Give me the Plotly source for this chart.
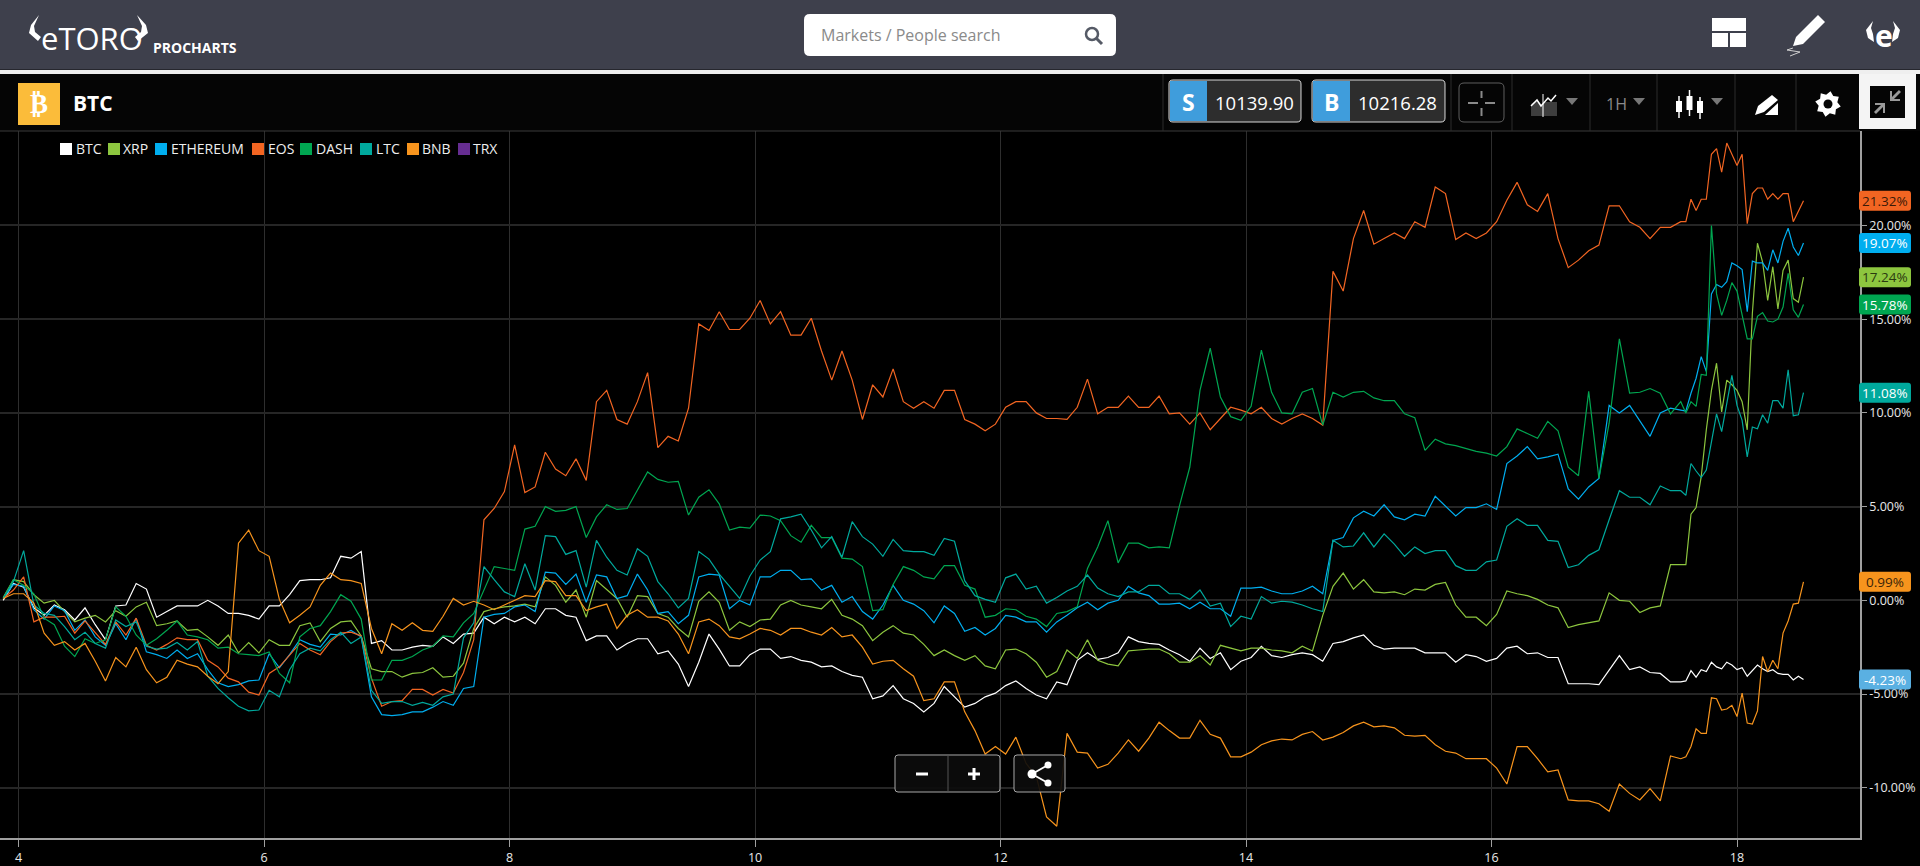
import math

import plotly.graph_objects as go

W, H = 1920, 866

# hours since the 4th: 2-hourly up to h=323, then hourly for the busy tail
hours = list(range(-3, 325, 2)) + list(range(325, 350))
days = [4 + h / 24 for h in hours]

btc = [0.0,0.9,0.7,-0.4,-0.8,-0.25,-0.5,-1.05,-0.4,-1.3,
       -2.1,-0.3,-0.25,0.9,0.6,-0.9,-0.6,-0.3,-0.3,-0.3,
       0.0,-0.3,-0.7,-0.7,-0.8,-1.0,-0.3,-0.3,0.3,1.05,
       1.1,1.1,1.2,2.35,2.25,2.6,-2.3,-2.15,-2.65,-2.65,
       -2.5,-2.4,-2.45,-1.95,-2.3,-1.8,-1.75,-0.9,-1.25,-0.9,
       -1.15,-0.9,-1.25,-0.45,-0.45,-0.8,-0.9,-2.15,-1.9,-1.9,
       -2.65,-2.3,-2.05,-2.05,-2.85,-2.7,-3.4,-4.6,-3.3,-1.8,
       -2.6,-3.5,-3.5,-2.9,-2.6,-2.6,-3.1,-3.0,-3.2,-3.3,
       -3.55,-3.5,-3.8,-4.0,-4.1,-5.25,-5.1,-4.55,-5.25,-5.5,
       -5.95,-5.5,-4.6,-5.15,-5.7,-5.5,-5.15,-4.95,-4.55,-4.3,
       -4.7,-5.05,-5.25,-4.35,-4.5,-3.2,-2.8,-3.15,-3.05,-2.8,
       -1.95,-2.2,-2.3,-2.35,-2.65,-2.9,-3.25,-2.55,-3.1,-2.8,
       -3.7,-3.25,-3.05,-2.45,-2.95,-3.05,-2.9,-2.8,-2.9,-3.25,
       -2.3,-2.2,-2.0,-1.85,-2.4,-2.6,-2.55,-2.55,-2.55,-2.8,
       -2.8,-2.8,-3.3,-2.9,-3.0,-3.25,-3.1,-2.55,-2.45,-2.85,
       -2.8,-3.05,-3.05,-4.45,-4.45,-4.45,-4.5,-3.7,-2.95,-3.7,
       -3.55,-3.85,-3.9,-4.35,
       -4.35,-4.3,-3.75,-4.1,-3.7,-3.8,-3.3,-3.55,-3.65,-3.3,-3.45,-3.7,-3.6,
       -4.05,-3.75,-3.45,-3.65,-3.8,-3.7,-3.9,-3.95,-3.95,-4.25,-4.05,-4.23]

xrp = [0.15,1.1,1.0,0.3,-0.15,0.0,-0.6,-1.15,-0.95,-0.8,
       -1.15,-0.55,-0.85,-0.35,-0.1,-1.35,-1.25,-1.1,-1.6,-1.55,
       -1.95,-2.4,-1.85,-2.8,-2.25,-2.8,-2.1,-2.4,-2.4,-1.35,
       -1.2,-2.2,-1.5,-1.15,-1.1,-1.9,-3.65,-3.8,-3.8,-4.1,
       -3.9,-3.85,-3.6,-4.1,-4.05,-3.35,-1.5,-0.6,-0.45,-0.35,
       -0.3,-0.2,-0.35,1.25,0.8,-0.1,0.55,-0.9,1.05,0.6,
       0.1,-0.9,0.25,0.2,-0.7,-0.9,-1.5,-1.95,-0.05,0.45,
       -0.1,-1.6,-1.15,-1.4,-1.05,-1.0,-0.25,0.0,-0.25,-0.35,
       -0.45,0.05,-0.8,-1.0,-1.35,-2.15,-1.7,-1.35,-1.75,-1.85,
       -2.35,-2.95,-2.65,-2.95,-3.2,-2.95,-3.5,-3.65,-2.65,-2.6,
       -2.85,-3.3,-4.1,-3.8,-2.65,-3.1,-2.1,-3.2,-3.4,-3.5,
       -2.7,-2.65,-2.6,-2.6,-2.85,-3.3,-3.3,-2.95,-3.45,-2.4,
       -2.55,-2.7,-2.55,-2.55,-2.65,-2.7,-2.8,-2.45,-2.7,-0.8,
       0.75,1.45,0.6,1.1,0.45,0.4,0.45,0.3,0.6,0.55,
       0.85,0.95,-0.25,-0.9,-0.9,-1.35,-0.75,0.5,0.35,0.25,
       0.05,-0.25,-0.4,-1.45,-1.3,-1.2,-1.1,0.4,0.0,-0.05,
       -0.65,-0.4,-0.3,1.9,
       1.9,1.9,4.6,4.95,6.6,9.1,11.2,12.65,10.05,11.75,11.5,11.2,10.6,
       9.1,15.3,19.05,18.05,16.0,17.8,15.55,17.6,18.15,16.1,15.9,17.24]

ethereum = [0.1,0.85,0.75,-0.5,-1.0,-0.3,-0.55,-1.6,-1.05,-1.95,
            -2.4,-1.25,-2.1,-0.95,-2.75,-2.9,-3.1,-2.65,-3.1,-2.85,
            -3.7,-4.4,-4.6,-4.5,-4.3,-4.25,-2.85,-3.6,-2.9,-2.1,
            -2.35,-2.5,-1.8,-1.85,-1.6,-1.95,-5.15,-6.1,-6.15,-6.1,
            -5.95,-5.95,-5.7,-5.4,-5.6,-4.7,-4.6,-0.9,-0.75,-0.7,
            -0.35,-0.25,-0.6,1.5,1.45,0.85,1.4,-0.1,1.35,1.25,
            0.1,0.25,1.4,0.55,-0.7,-0.6,-1.25,-0.8,1.25,1.4,
            1.35,-0.45,0.0,-0.25,1.25,1.25,1.6,1.6,1.1,1.15,
            0.55,0.8,-0.1,0.2,-0.6,-1.0,-0.25,0.8,0.0,-0.2,
            -0.55,-1.2,-0.3,-0.7,-1.65,-1.45,-1.85,-1.5,-0.8,-0.9,
            -1.15,-1.15,-1.7,-1.15,-0.8,-0.4,-0.1,-0.5,-0.15,0.0,
            0.75,0.4,0.25,-0.2,-0.2,-0.15,-0.45,-0.1,-0.45,-0.45,
            -0.85,0.65,0.65,0.7,0.5,0.35,0.35,0.5,0.75,0.35,
            3.2,3.35,4.4,4.75,4.5,5.1,4.45,4.3,4.6,4.5,
            5.55,5.05,4.5,4.95,4.95,5.15,4.85,7.3,7.7,8.2,
            7.55,7.65,7.8,5.95,5.4,6.05,6.5,10.4,10.0,10.4,
            9.6,8.75,10.0,10.25,
            10.15,10.1,11.05,11.85,13.0,12.2,16.35,16.85,16.7,17.0,18.0,17.85,17.65,
            15.4,18.1,18.0,18.0,17.6,18.7,18.0,19.15,19.85,18.85,18.4,19.07]

eos = [0.1,0.55,1.25,-1.15,-0.9,-0.9,-0.85,-1.75,-1.1,-1.75,
       -2.35,-1.15,-1.85,-0.95,-2.4,-2.65,-2.35,-2.0,-2.1,-2.1,
       -3.2,-3.55,-4.15,-4.35,-4.9,-5.05,-3.9,-3.55,-2.9,-2.3,
       -2.65,-2.9,-2.2,-1.75,-1.7,-1.9,-4.15,-5.65,-5.4,-5.35,
       -4.75,-4.75,-5.05,-4.75,-4.95,-3.85,-2.1,4.3,4.9,5.8,
       8.3,5.75,6.05,7.9,7.0,6.65,7.55,6.4,10.6,11.2,
       9.65,9.4,10.6,12.15,8.15,8.75,8.5,10.25,14.75,14.4,
       15.4,14.45,14.45,15.05,16.0,14.75,15.4,14.15,14.15,15.05,
       13.3,11.75,13.3,11.75,9.65,11.5,10.85,12.35,10.6,10.25,
       10.6,10.25,11.2,11.2,9.65,9.4,9.05,9.4,10.3,10.6,
       10.6,10.0,9.7,9.7,9.65,10.3,11.8,9.95,10.3,10.3,
       10.9,10.3,10.3,10.9,9.95,10.0,9.4,10.0,9.1,9.7,
       10.3,10.15,9.95,10.3,9.7,9.4,9.7,9.95,9.7,9.35,
       17.55,16.5,19.3,20.8,19.0,19.3,19.6,19.3,20.2,19.9,
       22.05,21.7,19.25,19.6,19.3,19.6,20.2,21.35,22.3,21.1,
       20.75,21.7,19.3,17.75,18.15,18.65,18.95,21.05,21.05,20.2,
       19.9,19.3,19.9,19.9,
       20.2,20.2,21.4,20.8,21.4,21.4,23.8,24.1,22.85,24.4,23.8,23.2,23.8,
       20.1,21.7,22.0,22.0,21.4,21.7,21.4,21.7,21.7,20.2,20.8,21.32]

dash = [0.1,1.1,0.8,0.35,-0.95,-1.3,-2.45,-3.0,-2.05,-2.3,
        -2.1,-0.35,-0.85,-1.85,-2.4,-2.05,-1.6,-1.1,-1.85,-1.95,
        -2.1,-2.55,-2.5,-2.85,-2.9,-2.95,-2.75,-3.9,-4.4,-1.95,
        -1.5,-1.35,-0.6,0.3,-0.05,-1.0,-4.25,-4.25,-3.2,-3.2,
        -3.0,-2.65,-2.45,-1.9,-1.95,-1.2,-0.7,0.55,1.8,1.7,
        1.6,3.8,3.95,5.0,4.75,4.8,5.0,3.35,4.45,5.1,
        4.85,4.9,5.85,6.85,6.45,6.3,6.35,4.55,5.5,5.9,
        5.15,3.75,3.9,3.85,4.55,4.5,4.25,3.45,3.1,4.0,
        3.35,3.35,2.25,2.2,1.8,-0.55,-0.5,0.85,1.8,1.6,
        1.25,1.15,1.85,1.85,0.8,0.6,-0.9,-0.8,-0.45,-0.5,
        -0.85,-1.0,-1.4,-0.7,-0.6,-0.35,1.7,2.85,4.25,2.0,
        3.05,3.05,2.8,2.85,2.8,5.05,7.1,11.2,13.45,10.85,
        9.8,9.6,10.35,13.35,11.1,10.0,9.95,11.1,11.3,9.35,
        11.1,10.85,11.1,11.15,10.8,10.65,10.65,9.95,9.75,8.0,
        8.6,8.35,8.25,8.1,7.95,7.85,7.7,8.2,9.15,8.9,
        8.65,9.55,9.05,7.1,6.65,11.15,6.5,9.45,13.95,11.05,
        11.1,11.3,11.05,9.95,
        10.6,10.0,10.6,10.35,12.05,12.0,20.0,16.35,15.2,16.0,16.95,16.5,15.2,
        13.95,13.95,15.15,15.35,14.9,14.85,15.0,15.65,17.45,15.5,15.1,15.78]

ltc = [0.1,1.0,2.65,-0.25,-0.7,-0.8,-1.4,-2.1,-1.7,-2.3,
       -2.55,-1.05,-1.4,-1.15,-2.45,-2.6,-2.55,-2.25,-2.65,-2.2,
       -4.05,-4.7,-5.2,-5.65,-5.9,-5.85,-4.8,-5.15,-3.7,-2.85,
       -2.55,-2.7,-2.1,-1.7,-2.3,-1.95,-4.8,-5.5,-5.4,-5.4,
       -5.6,-5.45,-5.6,-5.15,-5.0,-2.0,-1.2,1.8,1.1,0.45,
       0.2,1.95,0.55,3.45,3.4,2.45,2.65,0.7,3.2,2.3,
       1.6,1.35,2.75,2.35,1.0,0.35,-0.4,0.1,2.6,2.2,
       1.4,0.75,0.1,1.3,2.15,2.6,4.35,4.45,4.6,3.75,
       2.8,3.4,2.3,4.2,3.4,3.0,2.35,3.25,2.65,2.6,
       2.6,2.4,3.3,3.15,1.05,0.25,0.05,-0.1,1.2,1.4,
       0.6,0.75,-0.15,0.15,0.5,0.75,1.35,0.65,0.35,0.2,
       0.45,0.45,0.8,0.8,0.35,0.35,0.05,0.55,-0.3,-0.15,
       -1.4,-0.85,-1.0,0.2,-0.15,-0.05,-0.1,-0.25,-0.45,-0.6,
       3.2,2.85,2.9,3.6,2.85,3.55,3.0,2.35,2.85,2.5,
       2.65,2.65,1.85,1.6,1.6,2.05,2.15,3.95,4.35,4.0,
       4.0,3.2,3.15,1.75,1.9,2.4,2.7,4.3,5.85,5.5,
       5.5,5.1,6.1,5.85,
       5.85,5.6,7.3,6.9,6.55,6.95,8.55,9.95,9.0,10.5,12.0,10.4,9.6,
       7.65,9.25,9.15,9.9,9.45,10.65,10.65,10.25,12.3,9.85,9.9,11.08]

bnb = [0.1,0.35,0.35,-0.15,-1.75,-2.4,-2.2,-2.65,-2.3,-3.25,
       -4.3,-3.05,-3.55,-2.5,-3.7,-4.4,-4.1,-3.2,-3.4,-3.55,
       -4.05,-4.45,-3.8,3.05,3.75,2.65,2.35,0.05,-1.2,-0.8,
       -0.35,0.8,1.45,1.1,1.05,0.9,-1.5,-2.85,-1.25,-1.6,
       -1.2,-1.6,-1.65,-0.85,0.1,-0.25,-0.05,-0.25,-0.5,-0.25,
       0.0,0.25,0.2,1.05,1.0,0.25,0.25,-0.55,-0.35,-0.2,
       -1.5,-0.8,-0.5,-0.9,-0.9,-1.1,-1.8,-2.85,-1.15,-1.0,
       -1.35,-1.95,-2.05,-1.8,-1.5,-1.6,-1.85,-1.5,-1.5,-1.7,
       -1.85,-1.45,-1.95,-1.85,-2.5,-3.4,-3.25,-3.2,-3.65,-4.05,
       -5.35,-5.25,-4.35,-4.35,-5.95,-6.95,-8.2,-7.8,-8.2,-7.3,
       -8.7,-9.4,-11.55,-12.05,-7.1,-8.1,-8.15,-8.95,-8.75,-8.15,
       -7.45,-8.05,-7.35,-6.5,-6.95,-7.35,-7.35,-6.4,-7.15,-7.35,
       -8.35,-8.35,-8.1,-7.7,-7.5,-7.4,-7.45,-7.15,-7.0,-7.45,
       -7.3,-7.05,-6.7,-6.5,-6.75,-6.7,-6.8,-7.2,-7.25,-7.2,
       -7.7,-8.05,-8.15,-8.45,-8.45,-8.45,-8.95,-9.8,-7.8,-7.8,
       -8.45,-9.15,-9.05,-10.65,-10.7,-10.7,-10.85,-11.25,-9.8,-10.3,
       -10.65,-10.05,-10.7,-8.3,
       -8.45,-8.35,-7.8,-6.85,-7.1,-7.1,-5.2,-5.25,-5.85,-5.8,-5.6,-6.2,-4.95,
       -6.55,-6.6,-5.9,-3.0,-3.8,-3.2,-3.65,-1.75,-1.1,-0.2,-0.15,0.99]

names = ["BTC", "XRP", "ETHEREUM", "EOS", "DASH", "LTC", "BNB", "TRX"]
colors = ["#ffffff", "#8dc63f", "#00aeef", "#f26522", "#00a651", "#00a99d", "#f7941d", "#662d91"]
series = [btc, xrp, ethereum, eos, dash, ltc, bnb]

x_ticks = [4, 6, 8, 10, 12, 14, 16, 18]
y_ticks = [-10, -5, 0, 5, 10, 15, 20]
y_labels = ["-10.00%", "-5.00%", "0.00%", "5.00%", "10.00%", "15.00%", "20.00%"]

# last-value tags: series index, tag colour, text colour
tags = [(3, "#f26522", "#3a1a08"), (2, "#00aeef", "#ffffff"), (1, "#8dc63f", "#2b3a10"),
        (4, "#00a651", "#ffffff"), (5, "#00a99d", "#ffffff"), (6, "#f7941d", "#3a2408"),
        (0, "#5ab0e2", "#ffffff")]

for s in series:
    assert len(s) == len(hours), len(s)

y_range = [-12.68, 25.04]
plot_top, plot_bottom = 131, 838


# screen pixel helpers for the page furniture around the chart
def px(x):
    return x / W


def py(y):
    return 1 - y / H


def poly(points, close=True):
    d = "M " + " L ".join(f"{px(x):.5f},{py(y):.5f}" for x, y in points)
    return d + (" Z" if close else "")


def round_rect(x0, y0, x1, y1, r):
    p = lambda x, y: f"{px(x):.5f},{py(y):.5f}"
    return (f"M {p(x0 + r, y0)} L {p(x1 - r, y0)} Q {p(x1, y0)} {p(x1, y0 + r)} "
            f"L {p(x1, y1 - r)} Q {p(x1, y1)} {p(x1 - r, y1)} L {p(x0 + r, y1)} "
            f"Q {p(x0, y1)} {p(x0, y1 - r)} L {p(x0, y0 + r)} Q {p(x0, y0)} {p(x0 + r, y0)} Z")


shapes = []
notes = []


def rect(x0, y0, x1, y1, fill, line=None, lw=1):
    shapes.append(dict(type="rect", xref="paper", yref="paper", x0=px(x0), x1=px(x1), y0=py(y1), y1=py(y0),
                       fillcolor=fill, line=dict(color=line or fill, width=lw if line else 0), layer="above"))


def path(d, fill=None, line=None, lw=1):
    shapes.append(dict(type="path", xref="paper", yref="paper", path=d, fillcolor=fill or "rgba(0,0,0,0)",
                       line=dict(color=line or "rgba(0,0,0,0)", width=lw if line else 0), layer="above"))


def seg(x0, y0, x1, y1, color, lw=1):
    shapes.append(dict(type="line", xref="paper", yref="paper", x0=px(x0), x1=px(x1), y0=py(y0), y1=py(y1),
                       line=dict(color=color, width=lw), layer="above"))


def circle(cx, cy, r, fill=None, line=None, lw=1):
    shapes.append(dict(type="circle", xref="paper", yref="paper", x0=px(cx - r), x1=px(cx + r),
                       y0=py(cy + r), y1=py(cy - r), fillcolor=fill or "rgba(0,0,0,0)",
                       line=dict(color=line or "rgba(0,0,0,0)", width=lw if line else 0), layer="above"))


def label(x, y, text, size=13, color="#ffffff", anchor="left", family="Open Sans"):
    notes.append(dict(xref="paper", yref="paper", x=px(x), y=py(y), text=text, showarrow=False,
                      xanchor=anchor, yanchor="middle", font=dict(family=family, size=size, color=color),
                      borderpad=0))


def triangle(cx, cy, color="#777777"):
    path(poly([(cx - 6, cy - 3), (cx + 6, cy - 3), (cx, cy + 4)]), fill=color)


# top nav bar
rect(0, 0, W, 69, "#3e404c")
rect(0, 69, W, 70, "#26272e")
rect(0, 70, W, 74, "#efefef")
rect(0, 74, W, 131, "#050505")
seg(0, 131, 1860, 131, "#3a3a3a", 1)

# logo
label(40, 38, "eTORO", size=31, family="Open Sans")
path(poly([(39, 15), (31, 25), (29, 33), (38, 41), (41, 37), (35, 32), (34, 26)]), fill="#ffffff")
path(poly([(137, 15), (146, 25), (148, 33), (138, 41), (135, 37), (141, 32), (142, 26)]), fill="#ffffff")
label(152, 47.5, "<b>PROCHARTS</b>", size=14)

# search box
path(round_rect(804, 14, 1116, 56, 6), fill="#ffffff")
label(820, 35, "Markets / People search", size=16, color="#8a8a8a")
circle(1092, 34, 6, line="#555a66", lw=2.5)
seg(1096.5, 38.5, 1102, 44, "#555a66", 3)

# top right icons
rect(1712, 18, 1746, 31, "#ffffff")
rect(1712, 33, 1728, 47, "#ffffff")
rect(1730, 33, 1746, 47, "#ffffff")
path(poly([(1818, 15), (1825, 22), (1803, 44), (1793, 46), (1796, 37)]), fill="#ffffff")
path(poly([(1793, 48), (1787, 50), (1800, 52), (1790, 56)], close=False), line="#cfcfcf", lw=1)
label(1883.5, 36, "<b>e</b>", size=30, anchor="center")
path(poly([(1873, 21), (1866, 30), (1868, 38), (1874, 42), (1873, 34), (1871, 28)]), fill="#ffffff")
path(poly([(1893, 21), (1900, 30), (1898, 38), (1892, 42), (1893, 34), (1895, 28)]), fill="#ffffff")

# symbol header
rect(18, 83, 60, 125, "#fbbc3a")
label(39, 104, "<b>₿</b>", size=27, anchor="center", family="DejaVu Sans")
label(72, 103, "<b>BTC</b>", size=21)

for sx in [1163, 1451, 1512, 1590, 1657, 1735, 1796]:
    seg(sx, 74, sx, 131, "#2c2c2c", 1)

# sell / buy boxes
for x0, x1, split, letter, price in [(1169, 1301, 1207, "S", "10139.90"), (1312, 1445, 1350, "B", "10216.28")]:
    path(round_rect(x0, 80, x1, 122, 4), fill="#2d2d2d", line="#d8d8d8", lw=1)
    rect(x0 + 1, 81, split, 121, "#3f9ddc")
    label((x0 + split) / 2, 102, f"<b>{letter}</b>", size=23, anchor="center")
    label((split + x1) / 2, 102, price, size=18.5, anchor="center")

# crosshair button
path(round_rect(1459, 83, 1504, 122, 5), line="#5f5f5f", lw=1)
seg(1468, 103, 1478, 103, "#8a8a8a", 2)
seg(1485, 103, 1495, 103, "#8a8a8a", 2)
seg(1481.5, 91, 1481.5, 98, "#8a8a8a", 2)
seg(1481.5, 108, 1481.5, 116, "#8a8a8a", 2)

# chart kind icon
path(poly([(1531, 116), (1531, 104), (1537, 100), (1543, 106), (1543, 102), (1557, 102), (1557, 116)]), fill="#3e3e3e")
path(poly([(1531, 106), (1537, 100), (1541, 106), (1548, 98), (1551, 101), (1556, 95)], close=False), line="#ffffff", lw=1.5)
seg(1543, 94, 1543, 117, "#ffffff", 1)
triangle(1572, 101)
label(1616, 104, "1H", size=16, color="#8a8a8a", anchor="center")
triangle(1639, 101)

# candles icon
for cx, top, bot, y0, y1 in [(1679, 96, 118, 101, 112), (1689.5, 90, 116, 96, 110), (1700, 97, 119, 101, 113)]:
    seg(cx, top, cx, bot, "#ffffff", 1.5)
    rect(cx - 3, y0, cx + 3, y1, "#ffffff")
triangle(1717, 101)

# drawing tools icon
path(poly([(1772, 95), (1778, 100), (1764, 112), (1755, 115), (1758, 106)]), fill="#ffffff")
path(poly([(1765, 115), (1778, 103), (1778, 115)]), fill="#ffffff")

# gear
teeth = []
for i in range(16):
    a = math.pi * 2 * (i + 0.5) / 16
    r = 13 if i % 2 == 0 else 9.5
    teeth.append((1828 + r * math.cos(a), 104 + r * math.sin(a)))
path(poly(teeth), fill="#ffffff")
circle(1828, 104, 4.5, fill="#050505")

# expand button
rect(1859, 74, 1916, 129, "#f4f4f4")
rect(1870, 86, 1905, 118, "#050505")
path(poly([(1890, 91), (1892, 91), (1892, 97), (1899, 90), (1901, 92), (1894, 99), (1900, 99), (1900, 101), (1890, 101)]), fill="#9a9a9a")
path(poly([(1885, 113), (1883, 113), (1883, 107), (1876, 114), (1874, 112), (1881, 105), (1875, 105), (1875, 103), (1885, 103)]), fill="#9a9a9a")

# legend
legend_sq = [60, 108, 155, 252, 300, 360, 407, 458]
legend_tx = [74.5, 122, 170, 266.5, 315, 375, 421, 472]
for i, name in enumerate(names):
    rect(legend_sq[i], 143, legend_sq[i] + 12, 155, colors[i])
    label(legend_tx[i], 149, name, size=14, color="#eeeeee")

# zoom and share buttons
path(round_rect(895, 755, 1000, 792, 3), fill="rgba(12,12,12,0.92)", line="#a8a8a8", lw=1)
seg(948, 755, 948, 792, "#555555", 1)
seg(916, 774, 928, 774, "#ffffff", 3)
seg(968, 774, 980, 774, "#ffffff", 3)
seg(974, 768, 974, 780, "#ffffff", 3)
path(round_rect(1014, 755, 1065, 792, 3), fill="rgba(12,12,12,0.92)", line="#a8a8a8", lw=1)
seg(1032, 774, 1048, 765, "#ffffff", 2)
seg(1032, 774, 1048, 783, "#ffffff", 2)
circle(1032, 774, 4.5, fill="#ffffff")
circle(1048, 765, 3.5, fill="#ffffff")
circle(1048, 783, 3.5, fill="#ffffff")

# value tags on the axis, placed at the last value of each series
for idx, bg, fg in tags:
    last = series[idx][-1]
    yc = plot_top + (y_range[1] - last) / (y_range[1] - y_range[0]) * (plot_bottom - plot_top)
    path(round_rect(1859, yc - 10, 1911, yc + 10, 3), fill=bg)
    label(1885, yc, f"{last:.2f}%", size=13.5, color=fg, anchor="center")

fig = go.Figure()
for i, s in enumerate(series):
    fig.add_trace(go.Scatter(x=days, y=s, mode="lines", name=names[i], hoverinfo="skip",
                             line=dict(color=colors[i], width=1.2)))

fig.update_layout(
    width=W, height=H, autosize=False, showlegend=False,
    margin=dict(l=0, r=0, t=0, b=0),
    paper_bgcolor="#000000", plot_bgcolor="#000000",
    shapes=shapes, annotations=notes,
    font=dict(family="Open Sans", color="#ffffff"),
)
fig.update_xaxes(domain=[0, 1860 / W], range=[3.849, 19.002], tickvals=x_ticks, ticktext=[str(t) for t in x_ticks],
                 showgrid=True, gridcolor="#2e2e2e", gridwidth=1, zeroline=False,
                 showline=True, linecolor="#a0a0a0", linewidth=1.5,
                 ticks="outside", ticklen=7, tickcolor="#a0a0a0", tickfont=dict(size=12.5, color="#e8e8e8"))
fig.update_yaxes(domain=[(H - plot_bottom) / H, (H - plot_top) / H], range=y_range, side="right",
                 tickvals=y_ticks, ticktext=y_labels,
                 showgrid=True, gridcolor="#262626", gridwidth=2, zeroline=False,
                 showline=True, linecolor="#a0a0a0", linewidth=1.5,
                 ticks="outside", ticklen=5, tickcolor="#a0a0a0", tickfont=dict(size=12.5, color="#e8e8e8"))

fig.write_html("out.html", config=dict(displayModeBar=False),
               post_script="document.body.style.margin='0';document.body.style.background='#000';")
